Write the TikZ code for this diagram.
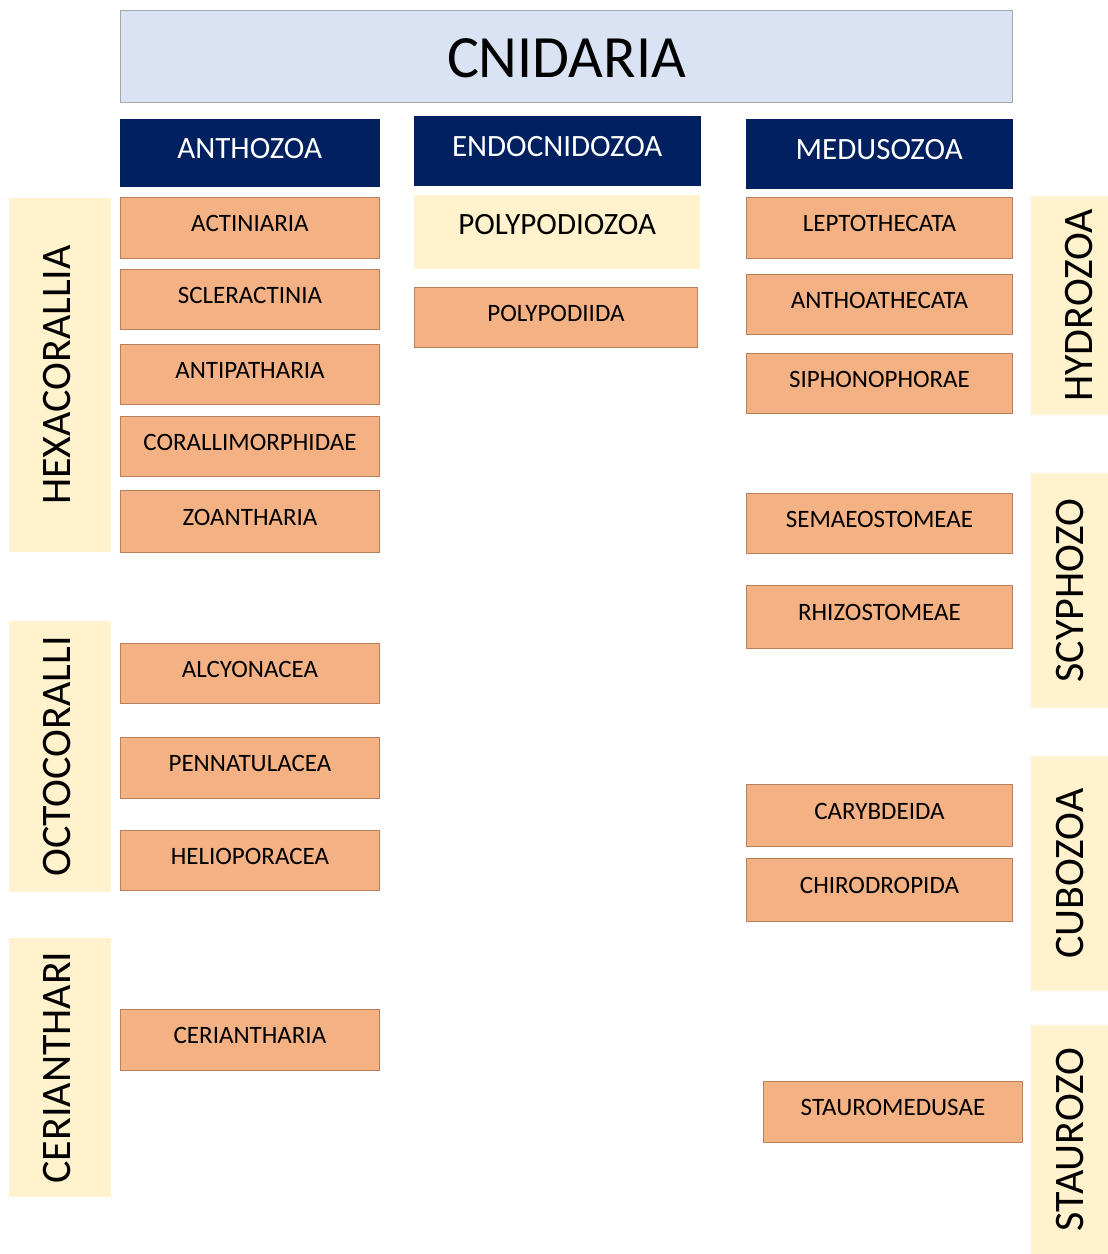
\documentclass[tikz,border=0pt]{standalone}
\usepackage{fontspec}
\setmainfont{Carlito}
\definecolor{navy}{HTML}{002060}
\definecolor{paleblue}{HTML}{DAE3F3}
\definecolor{cream}{HTML}{FFF2CC}
\definecolor{peach}{HTML}{F4B183}
\definecolor{peachline}{HTML}{B9805E}
\definecolor{greyline}{HTML}{A6A6A6}
\tikzset{
  box/.style={anchor=north west, inner sep=0pt, align=center},
  ord/.style={box, fill=peach, draw=peachline, line width=0.9pt,
    font=\fontsize{25}{30}\selectfont, text height=16pt, text depth=8pt,
    minimum height=61pt},
  lord/.style={ord, minimum width=259pt},
  rord/.style={ord, minimum width=266pt},
  head/.style={box, fill=navy, draw=navy, text=white,
    font=\fontsize{31}{36}\selectfont, text height=20pt, text depth=8pt},
  vlabl/.style={fill=cream, inner sep=0pt, rotate=90,
    font=\fontsize{42}{48}\selectfont, text height=27pt, text depth=7pt},
  vlabr/.style={fill=cream, inner sep=0pt, rotate=90,
    font=\fontsize{42}{48}\selectfont, text height=27pt, text depth=0pt},
}
\begin{document}
\begin{tikzpicture}[x=1pt,y=-1pt]
\useasboundingbox (0,0) rectangle (1108,1254);
% title
\node[box, fill=paleblue, draw=greyline, line width=1pt,
  minimum width=892pt, minimum height=92pt,
  font=\fontsize{60}{66}\selectfont, text height=42pt, text depth=0pt] (cnidaria) at (120,10) {CNIDARIA};
% headers
\node[head, minimum width=259pt, minimum height=67pt] (anthozoa) at (120,119) {ANTHOZOA};
\node[head, minimum width=286pt, minimum height=69pt] (endocnidozoa) at (414,116) {ENDOCNIDOZOA};
\node[head, minimum width=266pt, minimum height=69pt] (medusozoa) at (746,119) {MEDUSOZOA};
% endocnidozoa
\node[box, fill=cream, minimum width=286pt, minimum height=74pt,
  font=\fontsize{31}{36}\selectfont, text height=20pt, text depth=15pt] (polypodiozoa) at (414,195) {POLYPODIOZOA};
\node[ord, minimum width=283pt, minimum height=60pt] (polypodiida) at (414,287) {POLYPODIIDA};
% anthozoa orders
\node[lord] (actiniaria) at (120,197) {ACTINIARIA};
\node[lord, minimum height=60pt] (scleractinia) at (120,269) {SCLERACTINIA};
\node[lord, minimum height=60pt] (antipatharia) at (120,344) {ANTIPATHARIA};
\node[lord, minimum height=60pt] (corallimorphidae) at (120,416) {CORALLIMORPHIDAE};
\node[lord, minimum height=62pt] (zoantharia) at (120,490) {ZOANTHARIA};
\node[lord, minimum height=60pt] (alcyonacea) at (120,643) {ALCYONACEA};
\node[lord] (pennatulacea) at (120,737) {PENNATULACEA};
\node[lord, minimum height=60pt] (helioporacea) at (120,830) {HELIOPORACEA};
\node[lord] (ceriantharia) at (120,1009) {CERIANTHARIA};
% left labels
\node[vlabl, minimum width=354pt, minimum height=102pt] (hexacorallia) at (60,375) {HEXACORALLIA};
\node[vlabl, minimum width=271pt, minimum height=102pt] (octocoralli) at (60,756.5) {OCTOCORALLI};
\node[vlabl, minimum width=259pt, minimum height=102pt] (ceriantharilab) at (60,1067.5) {CERIANTHARI};
% medusozoa orders
\node[rord] (leptothecata) at (746,197) {LEPTOTHECATA};
\node[rord, minimum height=60pt] (anthoathecata) at (746,274) {ANTHOATHECATA};
\node[rord, minimum height=60pt] (siphonophorae) at (746,353) {SIPHONOPHORAE};
\node[rord, minimum height=60pt] (semaeostomeae) at (746,493) {SEMAEOSTOMEAE};
\node[rord, minimum height=63pt] (rhizostomeae) at (746,585) {RHIZOSTOMEAE};
\node[rord, minimum height=62pt] (carybdeida) at (746,784) {CARYBDEIDA};
\node[rord, minimum height=63pt] (chirodropida) at (746,858) {CHIRODROPIDA};
\node[ord, minimum width=259pt] (stauromedusae) at (763,1081) {STAUROMEDUSAE};
% right labels
\node[vlabl, minimum width=219pt, minimum height=77pt, text height=45pt, text depth=0pt] (hydrozoa) at (1069.5,305.5) {HYDROZOA};
\node[vlabr, minimum width=235pt, minimum height=77pt] (scyphozo) at (1069.5,590.5) {SCYPHOZO};
\node[vlabr, minimum width=235pt, minimum height=77pt] (cubozoa) at (1069.5,873.5) {CUBOZOA};
\node[vlabr, minimum width=229pt, minimum height=77pt] (staurozo) at (1069.5,1139.5) {STAUROZO};
\end{tikzpicture}
\end{document}
